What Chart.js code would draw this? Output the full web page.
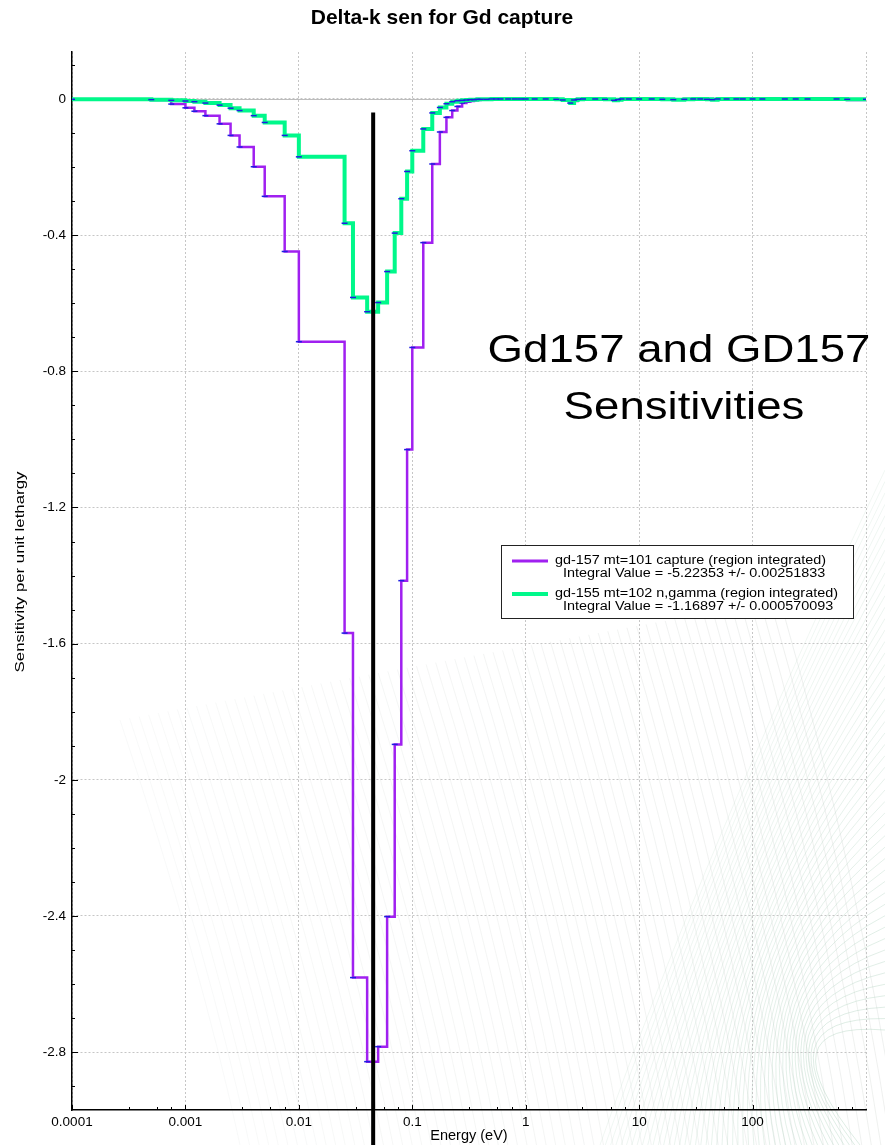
<!DOCTYPE html>
<html>
<head>
<meta charset="utf-8">
<title>Delta-k sen for Gd capture</title>
<script src="https://cdn.jsdelivr.net/npm/chart.js@4.4.0/dist/chart.umd.min.js"></script>
<style>
  html, body { margin: 0; padding: 0; background: #fff; }
  #wrap { width: 885px; height: 1145px; }
</style>
</head>
<body>
<div id="wrap"><canvas id="senChart" width="885" height="1145"></canvas></div>
<script>
// group boundaries in eV (lower edge of every group, plus the top edge)
const energyBounds = [
  1e-4, 5e-4, 7.5e-4, 1e-3, 1.2e-3, 1.5e-3, 2e-3, 2.5e-3, 3e-3, 4e-3,
  5e-3, 7.5e-3, 1e-2, 2.53e-2, 3e-2, 4e-2, 5e-2, 6e-2, 7e-2, 8e-2,
  9e-2, 0.1, 0.125, 0.15, 0.175, 0.2, 0.225, 0.25, 0.275, 0.3,
  0.325, 0.35, 0.375, 0.4, 0.45, 0.5, 0.55, 0.6, 0.7, 0.8,
  0.9, 1.0, 1.2, 1.5, 1.86, 2.12, 2.47, 2.67, 2.87, 3.2,
  4.1, 5.0, 6.0, 6.5, 7.0, 8.1, 10, 12.9, 16, 20,
  25, 30, 34.6, 39.6, 44, 49.2, 59, 72, 82, 100,
  122, 192.5, 240, 305, 550, 683, 1000
];

// sensitivity per unit lethargy, one value per group
const gd157Capture = [
  -0.001, -0.003, -0.015, -0.026, -0.036, -0.049, -0.073, -0.107, -0.141, -0.199,
  -0.286, -0.448, -0.713, -1.569, -2.581, -2.828, -2.784, -2.402, -1.896, -1.415,
  -1.03, -0.73, -0.422, -0.191, -0.097, -0.054, -0.034, -0.022, -0.012, -0.008,
  -0.006, -0.004, -0.003, -0.002, -0.002, -0.001, -0.001, -0.001, -0.001, 0,
  0, 0, 0, 0, -0.001, -0.002, -0.004, -0.006, -0.001, 0,
  0, -0.001, -0.002, -0.001, 0, 0, 0, -0.001, -0.001, -0.002,
  0, 0, -0.001, 0, 0, 0, 0, 0, 0, 0,
  0, 0, -0.001, 0, -0.002, -0.003
];
const gd155Ngamma = [
  -0.001, -0.002, -0.004, -0.006, -0.008, -0.012, -0.018, -0.027, -0.034, -0.049,
  -0.069, -0.107, -0.170, -0.365, -0.583, -0.625, -0.598, -0.507, -0.394, -0.293,
  -0.213, -0.152, -0.088, -0.041, -0.025, -0.014, -0.008, -0.005, -0.004, -0.003,
  -0.002, -0.002, -0.001, -0.001, -0.001, 0, 0, 0, 0, 0,
  0, 0, 0, 0, -0.001, -0.003, -0.012, -0.003, -0.001, 0,
  0, -0.001, -0.004, -0.002, 0, 0, 0, 0, -0.001, -0.002,
  -0.001, 0, 0, -0.001, -0.002, 0, 0, 0, 0, 0,
  0, 0, 0, 0, 0, -0.001
];

// vertical reference line
const markerEnergy = 0.0452;
const markerSpan = [-0.04, -3.1];

const xTickValues = [0.0001, 0.001, 0.01, 0.1, 1, 10, 100, 1000];
const yTickValues = [0, -0.4, -0.8, -1.2, -1.6, -2, -2.4, -2.8];

const chartTitle = 'Delta-k sen for Gd capture';
const seriesNames = [
  'gd-157 mt=101 capture (region integrated)',
  'gd-155 mt=102 n,gamma (region integrated)'
];
const integralNotes = [
  'Integral Value = -5.22353 +/- 0.00251833',
  'Integral Value = -1.16897 +/- 0.000570093'
];
const bannerLines = ['Gd157 and GD157', 'Sensitivities'];
const yAxisTitle = 'Sensitivity per unit lethargy';

const PURPLE = 'rgb(160, 32, 240)';
const GREEN = 'rgb(0, 248, 138)';
const BLUE = 'rgb(30, 30, 225)';
const FONT = '"Liberation Sans", Arial, Helvetica, sans-serif';

Chart.defaults.font.family = FONT;
Chart.defaults.color = '#000';

function stepPoints(values) {
  const pts = values.map((v, i) => ({ x: energyBounds[i], y: v }));
  pts.push({ x: energyBounds[energyBounds.length - 1], y: values[values.length - 1] });
  return pts;
}

// draw text stretched horizontally by sx
function wideText(ctx, text, x, y, sx) {
  ctx.save();
  ctx.translate(x, y);
  ctx.scale(sx, 1);
  ctx.fillText(text, 0, 0);
  ctx.restore();
}

const backdrop = {
  id: 'backdrop',
  beforeDraw(chart) {
    const ctx = chart.ctx;
    ctx.save();
    ctx.fillStyle = '#fff';
    ctx.fillRect(0, 0, chart.width, chart.height);
    ctx.lineWidth = 1;
    // faint sweeping mesh in the lower half
    for (let i = 0; i < 70; i++) {
      const t = i / 69;
      const xb = 230 + t * 660;
      ctx.strokeStyle = `rgba(200, 206, 202, ${0.12 + 0.18 * t})`;
      ctx.beginPath();
      ctx.moveTo(xb - 110, 720 - 120 * t);
      ctx.quadraticCurveTo(xb - 30, 960 - 80 * t, xb + 10, 1145);
      ctx.stroke();
    }
    for (let j = 0; j < 50; j++) {
      const t = j / 49;
      ctx.strokeStyle = `rgba(175, 210, 190, ${0.18 + 0.22 * t})`;
      ctx.beginPath();
      ctx.moveTo(885, 470 + t * 560);
      ctx.quadraticCurveTo(700 + 60 * t, 860 + 160 * t, 600 + t * 260, 1145);
      ctx.stroke();
    }
    ctx.restore();
  }
};

const axisMarks = {
  id: 'axisMarks',
  beforeDatasetsDraw(chart) {
    const { ctx, chartArea: a, scales: { x, y } } = chart;
    ctx.save();
    // solid zero line
    ctx.strokeStyle = '#bdbdbd';
    ctx.lineWidth = 1;
    const y0 = Math.round(y.getPixelForValue(0)) + 0.5;
    ctx.beginPath();
    ctx.moveTo(a.left, y0);
    ctx.lineTo(a.right, y0);
    ctx.stroke();

    // inward ticks
    ctx.strokeStyle = '#000';
    ctx.beginPath();
    for (let k = -29; k <= 1; k++) {
      const py = Math.round(y.getPixelForValue(k / 10)) + 0.5;
      const len = k % 4 === 0 ? 6 : 3;
      ctx.moveTo(a.left, py);
      ctx.lineTo(a.left + len, py);
    }
    for (let d = -4; d < 3; d++) {
      [1, 3.162, 5.623, 7.499].forEach((m, n) => {
        const px = Math.round(x.getPixelForValue(m * Math.pow(10, d))) + 0.5;
        const len = n === 0 ? 5 : 3;
        ctx.moveTo(px, a.bottom);
        ctx.lineTo(px, a.bottom - len);
      });
    }
    ctx.stroke();
    ctx.restore();
  }
};

const textLayer = {
  id: 'textLayer',
  afterDraw(chart) {
    const { ctx, chartArea: a } = chart;
    ctx.save();
    ctx.fillStyle = '#000';

    // chart title, centred on the page
    ctx.font = `bold 21px ${FONT}`;
    ctx.textAlign = 'center';
    ctx.textBaseline = 'middle';
    ctx.fillText(chartTitle, 442, 18);

    // rotated y axis title
    ctx.save();
    ctx.translate(24, 572);
    ctx.rotate(-Math.PI / 2);
    ctx.font = `12px ${FONT}`;
    ctx.textAlign = 'center';
    ctx.textBaseline = 'alphabetic';
    wideText(ctx, yAxisTitle, 0, 0, 1.4);
    ctx.restore();

    // big caption
    ctx.font = `38px ${FONT}`;
    ctx.textAlign = 'center';
    ctx.textBaseline = 'alphabetic';
    wideText(ctx, bannerLines[0], 679, 362, 1.2);
    wideText(ctx, bannerLines[1], 684, 419, 1.2);

    // legend box
    ctx.fillStyle = '#fff';
    ctx.fillRect(501.5, 545.5, 352, 73);
    ctx.strokeStyle = '#222';
    ctx.lineWidth = 1;
    ctx.strokeRect(501.5, 545.5, 352, 73);

    const colors = [PURPLE, GREEN];
    const widths = [3, 4];
    const rowY = [561, 594];
    ctx.font = `12px ${FONT}`;
    ctx.textAlign = 'left';
    ctx.fillStyle = '#000';
    for (let i = 0; i < 2; i++) {
      ctx.strokeStyle = colors[i];
      ctx.lineWidth = widths[i];
      ctx.beginPath();
      ctx.moveTo(512, rowY[i]);
      ctx.lineTo(548, rowY[i]);
      ctx.stroke();
      wideText(ctx, seriesNames[i], 555, rowY[i] + 2.5, 1.2);
      wideText(ctx, integralNotes[i], 563, rowY[i] + 16, 1.2);
    }
    ctx.restore();
  }
};

const gridStyle = { color: '#c6c6c6', lineWidth: 1, drawTicks: false };
const borderStyle = { display: true, color: '#000', width: 1.5, dash: [2, 2] };

new Chart(document.getElementById('senChart'), {
  type: 'line',
  data: {
    datasets: [
      {
        label: 'marker',
        data: [{ x: markerEnergy, y: markerSpan[0] }, { x: markerEnergy, y: markerSpan[1] }],
        borderColor: '#000',
        borderWidth: 4,
        pointRadius: 0,
        clip: false,
        order: 0
      },
      {
        label: seriesNames[1],
        data: stepPoints(gd155Ngamma),
        stepped: 'before',
        borderColor: GREEN,
        borderWidth: 4,
        pointStyle: 'line',
        pointRadius: 3,
        pointBorderColor: BLUE,
        pointBackgroundColor: BLUE,
        pointBorderWidth: 1.5,
        order: 1
      },
      {
        label: seriesNames[0],
        data: stepPoints(gd157Capture),
        stepped: 'before',
        borderColor: PURPLE,
        borderWidth: 2.5,
        pointStyle: 'line',
        pointRadius: 3,
        pointBorderColor: BLUE,
        pointBackgroundColor: BLUE,
        pointBorderWidth: 1.5,
        order: 2
      }
    ]
  },
  options: {
    responsive: false,
    animation: false,
    devicePixelRatio: 1,
    events: [],
    layout: { padding: { top: 52, right: 19 } },
    plugins: {
      legend: { display: false },
      tooltip: { enabled: false },
      title: { display: false }
    },
    scales: {
      x: {
        type: 'logarithmic',
        min: 1e-4,
        max: 1000,
        afterBuildTicks: s => { s.ticks = xTickValues.map(v => ({ value: v })); },
        afterFit: s => { s.height = 35; },
        ticks: {
          autoSkip: false,
          maxRotation: 0,
          padding: 4,
          color: '#000',
          font: { size: 13.5 },
          callback: v => (v === 1000 ? '' : String(v))
        },
        grid: gridStyle,
        border: borderStyle,
        title: { display: true, text: 'Energy (eV)', color: '#000', font: { size: 14.5 }, padding: 0 }
      },
      y: {
        type: 'linear',
        min: -2.97,
        max: 0.138,
        afterBuildTicks: s => { s.ticks = yTickValues.map(v => ({ value: v })); },
        afterFit: s => { s.width = 72; },
        ticks: {
          padding: 6,
          color: '#000',
          font: { size: 13.5 },
          callback: v => String(v)
        },
        grid: gridStyle,
        border: borderStyle
      }
    }
  },
  plugins: [backdrop, axisMarks, textLayer]
});
</script>
</body>
</html>
